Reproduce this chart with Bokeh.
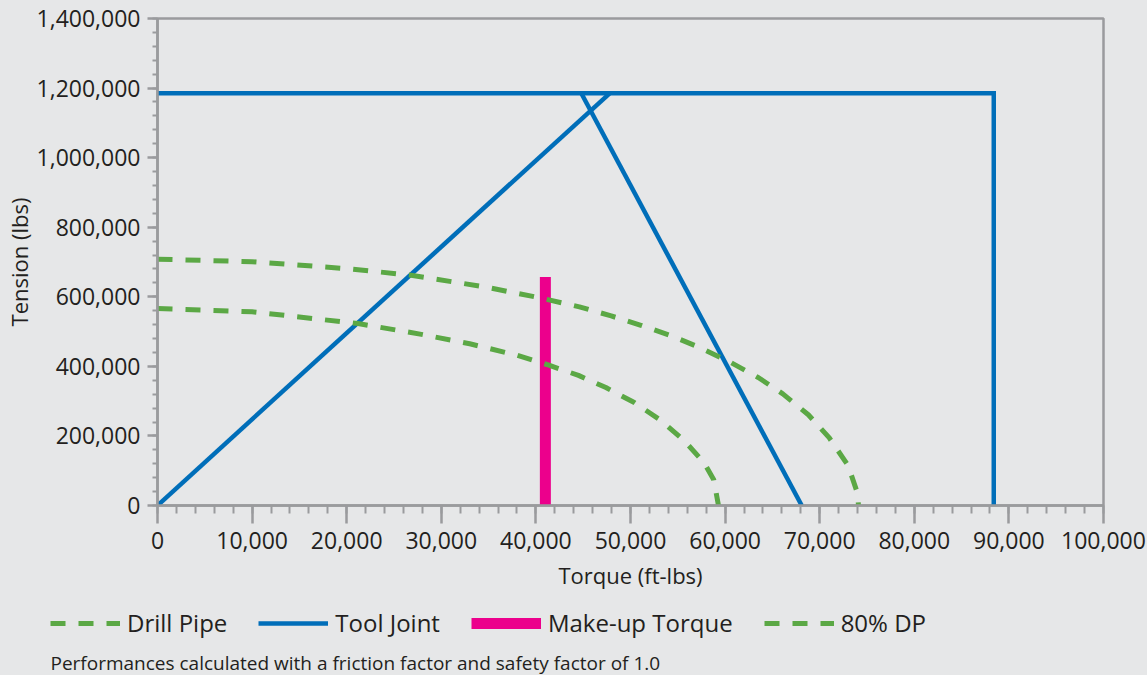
from bokeh.plotting import figure
from bokeh.models import (SingleIntervalTicker, NumeralTickFormatter, Legend,
                          LegendItem, Label, Range1d)
from bokeh.embed import file_html
from bokeh.resources import INLINE

# ---------------- data ----------------
dp_torque = [0, 10000, 20000, 26800, 34700, 40600, 44600, 47960, 51100, 54300,
             57500, 60400, 63500, 66100, 68800, 71000, 73000, 74000, 74100]
dp_tension = [708000, 701000, 681000, 662000, 628000, 596000, 571000, 545000,
              518000, 488000, 452000, 414000, 368000, 321000, 261000, 195000,
              115000, 35000, 0]

dp80_torque = [0, 10000, 21200, 27900, 33000, 38000, 41300, 44500, 47400,
               50400, 53200, 55700, 57800, 58800, 59300]
dp80_tension = [566000, 557000, 523000, 492000, 465000, 432000, 404000,
                374000, 339000, 296000, 245000, 186000, 122000, 74000, 0]

tj_up_torque = [0, 47800]
tj_up_tension = [0, 1185000]
tj_box_torque = [0, 88400, 88400]
tj_box_tension = [1185000, 1185000, 0]
tj_down_torque = [44800, 68100]
tj_down_tension = [1185000, 0]

mut_torque = [41000, 41000]
mut_tension = [0, 657000]

series_names = ["Drill Pipe", "Tool Joint", "Make-up Torque", "80% DP"]
x_title = "Torque (ft-lbs)"
y_title = "Tension (lbs)"
footnote = "Performances calculated with a friction factor and safety factor of 1.0"

# ---------------- style ----------------
BG = "#E6E7E8"
AX = "#9A9B9D"
TXT = "#231F20"
GREEN = "#5BA845"
BLUE = "#006EB9"
PINK = "#EC008C"
FONT = "Open Sans"
DASH = "15 13"

p = figure(width=1147, height=600, output_backend="svg", toolbar_location=None,
           x_range=Range1d(0, 100000), y_range=Range1d(0, 1400000),
           min_border_left=156, min_border_right=44, min_border_top=18,
           min_border_bottom=95, background_fill_color=BG,
           border_fill_color=BG, outline_line_color=AX, outline_line_width=2.5)
p.grid.visible = False

p.line(tj_up_torque, tj_up_tension, line_color=BLUE, line_width=4.5)
p.line(tj_box_torque, tj_box_tension, line_color=BLUE, line_width=4.5,
       line_join="miter")
p.line(tj_down_torque, tj_down_tension, line_color=BLUE, line_width=4.5)
p.line(mut_torque, mut_tension, line_color=PINK, line_width=11, line_cap="butt")
p.line(dp_torque, dp_tension, line_color=GREEN, line_width=5, line_dash=DASH)
p.line(dp80_torque, dp80_tension, line_color=GREEN, line_width=5, line_dash=DASH)

# axes
p.xaxis.ticker = SingleIntervalTicker(interval=10000, num_minor_ticks=5)
p.yaxis.ticker = SingleIntervalTicker(interval=200000, num_minor_ticks=5)
p.xaxis.formatter = NumeralTickFormatter(format="0,0")
p.yaxis.formatter = NumeralTickFormatter(format="0,0")
for ax in (p.xaxis, p.yaxis):
    ax.axis_line_color = AX
    ax.axis_line_width = 2.5
    ax.major_tick_line_color = AX
    ax.minor_tick_line_color = AX
    ax.major_tick_line_width = 2.5
    ax.minor_tick_line_width = 2
    ax.major_tick_in = 0
    ax.minor_tick_in = 0
    ax.major_label_text_font = FONT
    ax.major_label_text_font_size = "23px"
    ax.major_label_text_color = TXT
    ax.axis_label_text_font = FONT
    ax.axis_label_text_font_size = "22px"
    ax.axis_label_text_font_style = "normal"
    ax.axis_label_text_color = TXT
p.xaxis.major_tick_out = 18
p.xaxis.minor_tick_out = 8
p.yaxis.major_tick_out = 10
p.yaxis.minor_tick_out = 5
p.xaxis.major_label_standoff = 8
p.yaxis.major_label_standoff = 7
p.xaxis.axis_label = x_title
p.yaxis.axis_label = y_title
p.xaxis.axis_label_standoff = 8
p.yaxis.axis_label_standoff = 0

# ---------------- legend + footnote strip (separate root) ----------------
q = figure(width=1147, height=75, output_backend="svg", toolbar_location=None,
           x_range=Range1d(0, 1147), y_range=Range1d(0, 75),
           x_axis_type=None, y_axis_type=None, min_border=0,
           min_border_left=0, min_border_right=0, min_border_top=0,
           min_border_bottom=0, background_fill_color=BG,
           border_fill_color=BG, outline_line_color=None)
q.grid.visible = False
nan = float("nan")
k_dp = q.line([nan], [nan], line_color=GREEN, line_width=5, line_dash=DASH)
k_tj = q.line([nan], [nan], line_color=BLUE, line_width=4.5)
k_mut = q.line([nan], [nan], line_color=PINK, line_width=11, line_cap="butt")
k_dp80 = q.line([nan], [nan], line_color=GREEN, line_width=5, line_dash=DASH)

legend = Legend(items=[LegendItem(label=n, renderers=[r]) for n, r in
                       zip(series_names, [k_dp, k_tj, k_mut, k_dp80])],
                orientation="horizontal", location=(50, 36), padding=0,
                margin=0, spacing=31, glyph_width=70, glyph_height=24,
                label_height=24, label_standoff=7, background_fill_alpha=0,
                border_line_alpha=0, label_text_font=FONT,
                label_text_font_size="24px", label_text_color=TXT)
q.add_layout(legend, "center")

q.add_layout(Label(x=50, y=13, x_units="screen", y_units="screen",
                   text=footnote, text_font=FONT, text_font_size="19px",
                   text_color=TXT, text_baseline="alphabetic"))

html = file_html([p, q], INLINE)
html = html.replace("<body>", '<body style="background-color:#E6E7E8;">')
open("out.html", "w").write(html)
